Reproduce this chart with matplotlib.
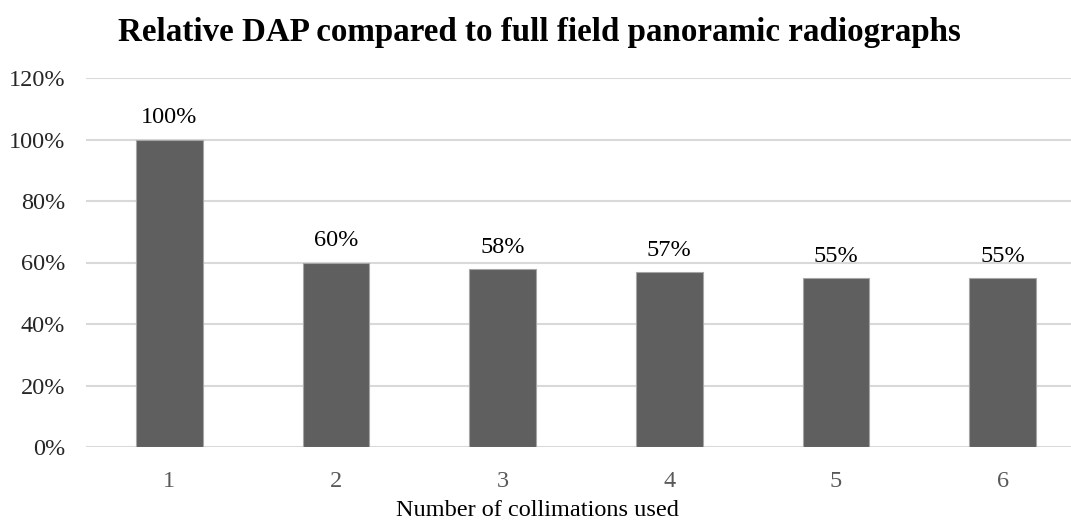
import matplotlib.pyplot as plt
from matplotlib.ticker import FuncFormatter

collimations = ['1', '2', '3', '4', '5', '6']
relative_dap = [100, 60, 58, 57, 55, 55]

plt.rcParams['font.family'] = ['Liberation Serif', 'DejaVu Serif']

fig = plt.figure(figsize=(10.71, 5.25), dpi=100)
# axes run a little past the right edge of the canvas
ax = fig.add_axes([86 / 1071, 78 / 525, 1000 / 1071, 369 / 525])

x = range(len(collimations))
bars = ax.bar(x, relative_dap, width=0.4, color='#5f5f5f',
              edgecolor='#a6a6a6', linewidth=0.8, zorder=3)

for xi, v in zip(x, relative_dap):
    ax.annotate(f'{v}%', (xi, v), xytext=(0, 8), textcoords='offset points',
                ha='center', va='bottom', fontsize=17.5, color='#000000')

ax.set_xlim(-0.5, len(collimations) - 0.5)
ax.set_ylim(0, 120)
ax.set_yticks(range(0, 121, 20))
ax.yaxis.set_major_formatter(FuncFormatter(lambda v, p: f'{v:.0f}%'))
ax.set_xticks(list(x))
ax.set_xticklabels(collimations)

ax.grid(axis='y', color='#d9d9d9', linewidth=1.5, zorder=0)
for s in ax.spines.values():
    s.set_visible(False)
ax.tick_params(axis='both', length=0)
ax.tick_params(axis='y', labelsize=17.5, labelcolor='#262626', pad=15)
ax.tick_params(axis='x', labelsize=17.5, labelcolor='#595959', pad=17)

ax.set_xlabel('Number of collimations used', fontsize=17.5, color='#000000')
ax.xaxis.set_label_coords((537 - 86) / 1000, -(511 - 447) / 369)
ax.xaxis.label.set_va('center')
fig.text(539 / 1071, 1 - 33 / 525, 'Relative DAP compared to full field panoramic radiographs',
         ha='center', va='center', fontsize=23.8, fontweight='bold')

fig.savefig('out.png', dpi=100)
